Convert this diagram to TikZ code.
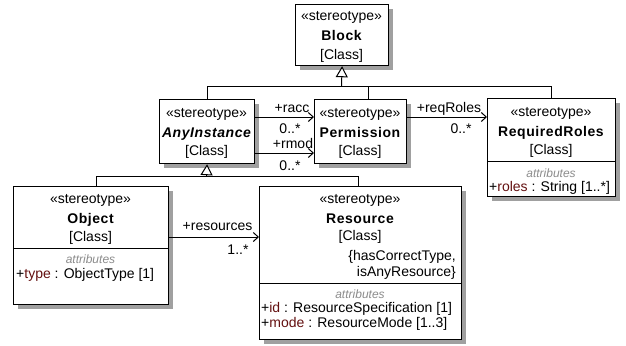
\documentclass[tikz,border=0pt]{standalone}
\usepackage{fontspec}
\setmainfont{Liberation Sans}
\usetikzlibrary{arrows.meta,shadows}
\definecolor{shadowc}{RGB}{160,160,160}
\definecolor{attrc}{RGB}{100,16,16}
\definecolor{notec}{RGB}{140,140,140}
\newcommand\clsname[1]{{\bfseries\addfontfeatures{LetterSpace=4}#1}}
\newcommand\attname[1]{\textcolor{attrc}{#1}}
\begin{document}
\begin{tikzpicture}[x=1bp,y=-1bp,
  umlbox/.style={draw, line width=1.2bp, fill=white, inner sep=0, anchor=north west,
    drop shadow={shadow xshift=4bp, shadow yshift=-4bp, fill=shadowc, opacity=1}},
  txt/.style={inner sep=0, anchor=base, font=\fontsize{14bp}{16bp}\selectfont},
  attr/.style={txt, anchor=base west},
  hint/.style={inner sep=0, anchor=base, font=\fontsize{12bp}{14bp}\selectfont\itshape, text=notec},
  assoc/.style={line width=1bp, -{Straight Barb[length=5bp,width=9bp]}},
  gen/.style={line width=1bp},
  genhead/.style={line width=1bp, -{Triangle[length=11bp,width=12bp,fill=white]}},
]
\useasboundingbox (0,0) rectangle (626,345);

% class boxes
\node[umlbox, minimum width=93bp, minimum height=61bp] (block) at (295,4) {};
\node[umlbox, minimum width=95bp, minimum height=64bp] (anyi) at (159,99) {};
\node[umlbox, minimum width=92bp, minimum height=64bp] (perm) at (314,99) {};
\node[umlbox, minimum width=128bp, minimum height=98bp] (req) at (487,98) {};
\node[umlbox, minimum width=155bp, minimum height=118bp] (obj) at (13,186) {};
\node[umlbox, minimum width=202bp, minimum height=153bp] (res) at (259,186) {};

% compartment separators
\coordinate (sreq) at (0,161);
\coordinate (sobj) at (0,248);
\coordinate (sres) at (0,283);
\draw[line width=1bp] (req.west |- sreq) -- (req.east |- sreq);
\draw[line width=1bp] (obj.west |- sobj) -- (obj.east |- sobj);
\draw[line width=1bp] (res.west |- sres) -- (res.east |- sres);

% Block
\node[txt] (block-st) at (341.5,20) {«stereotype»};
\node[txt] (block-nm) at (341.5,40) {\clsname{Block}};
\node[txt] (block-kd) at (341.5,59) {[Class]};

% AnyInstance
\node[txt] (anyi-st) at (206.5,117.5) {«stereotype»};
\node[txt] (anyi-nm) at (206.5,137) {\clsname{\itshape AnyInstance}};
\node[txt] (anyi-kd) at (206.5,155.5) {[Class]};

% Permission
\node[txt] (perm-st) at (360,117.5) {«stereotype»};
\node[txt] (perm-nm) at (360,137) {\clsname{Permission}};
\node[txt] (perm-kd) at (360,155.5) {[Class]};

% RequiredRoles
\node[txt] (req-st) at (551,116.5) {«stereotype»};
\node[txt] (req-nm) at (551,136) {\clsname{RequiredRoles}};
\node[txt] (req-kd) at (551,154.5) {[Class]};
\node[hint] (req-at) at (551,177) {attributes};
\node[attr] (req-a1) at (489,191.6) {+\attname{roles} : String [1..*]};

% Object
\node[txt] (obj-st) at (90.5,203.6) {«stereotype»};
\node[txt] (obj-nm) at (90.5,223) {\clsname{Object}};
\node[txt] (obj-kd) at (90.5,241.6) {[Class]};
\node[hint] (obj-at) at (90.5,263) {attributes};
\node[attr] (obj-a1) at (16,278.6) {+\attname{type} : ObjectType [1]};

% Resource
\node[txt] (res-st) at (360,203.6) {«stereotype»};
\node[txt] (res-nm) at (360,223) {\clsname{Resource}};
\node[txt] (res-kd) at (360,240.6) {[Class]};
\node[txt, anchor=base east] (res-c1) at (456,260.6) {\{hasCorrectType,};
\node[txt, anchor=base east] (res-c2) at (456,276.5) {isAnyResource\}};
\node[hint] (res-at) at (360,298) {attributes};
\node[attr] (res-a1) at (261,312.6) {+\attname{id} : ResourceSpecification [1]};
\node[attr] (res-a2) at (261,327.6) {+\attname{mode} : ResourceMode [1..3]};

% generalizations
\coordinate (jtop) at (341.5,86);
\coordinate (permx) at (368,99);
\draw[gen] (anyi.north) -- (anyi.north |- jtop) -- (req.north |- jtop) -- (req.north);
\draw[gen] (permx) -- (permx |- jtop);
\draw[genhead] (jtop) -- (block.south);

\coordinate (jmid) at (206.5,176);
\coordinate (objx) at (96,186);
\coordinate (resx) at (358,186);
\draw[gen] (objx) -- (objx |- jmid) -- (resx |- jmid) -- (resx);
\draw[genhead] (jmid) -- (anyi.south);

% associations
\coordinate (yracc) at (0,117);
\coordinate (yrmod) at (0,153);
\coordinate (yres) at (0,237);
\draw[assoc] (anyi.east |- yracc) -- (perm.west |- yracc);
\draw[assoc] (anyi.east |- yrmod) -- (perm.west |- yrmod);
\draw[assoc] (perm.east |- yracc) -- (req.west |- yracc);
\draw[assoc] (obj.east |- yres) -- (res.west |- yres);

% association end labels
\node[txt] (racc-r) at (292,112) {+racc};
\node[txt] (racc-m) at (290,133) {0..*};
\node[txt] (rmod-r) at (293,148.5) {+rmod};
\node[txt] (rmod-m) at (290,170) {0..*};
\node[txt] (reqr-r) at (449,112.5) {+reqRoles};
\node[txt] (reqr-m) at (461,133) {0..*};
\node[txt] (resr-r) at (217.5,230.5) {+resources};
\node[txt] (resr-m) at (238,254) {1..*};
\end{tikzpicture}
\end{document}
